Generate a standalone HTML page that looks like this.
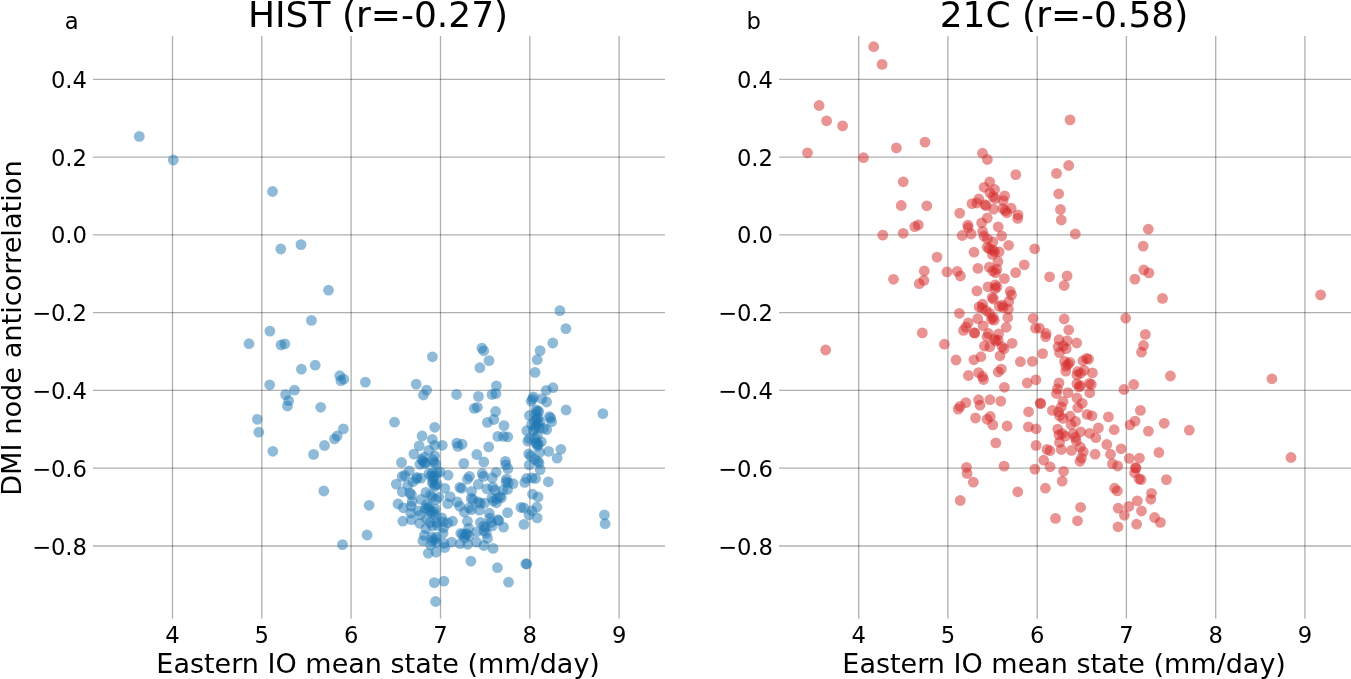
<!DOCTYPE html>
<html><head><meta charset="utf-8"><title>scatter</title>
<style>html,body{margin:0;padding:0;background:#fff;overflow:hidden}svg{display:block;will-change:transform}text{font-family:"DejaVu Sans","Liberation Sans",sans-serif;fill:#000}</style></head><body>
<svg width="1351" height="679" viewBox="0 0 1351 679">
<rect width="1351" height="679" fill="#fff"/>
<g stroke="#000" stroke-opacity="0.31" stroke-width="1.33" fill="none">
<line x1="172.5" y1="36.0" x2="172.5" y2="618.5"/>
<line x1="261.8" y1="36.0" x2="261.8" y2="618.5"/>
<line x1="351.1" y1="36.0" x2="351.1" y2="618.5"/>
<line x1="440.5" y1="36.0" x2="440.5" y2="618.5"/>
<line x1="529.8" y1="36.0" x2="529.8" y2="618.5"/>
<line x1="619.1" y1="36.0" x2="619.1" y2="618.5"/>
<line x1="93.0" y1="546.0" x2="665.0" y2="546.0"/>
<line x1="93.0" y1="468.2" x2="665.0" y2="468.2"/>
<line x1="93.0" y1="390.4" x2="665.0" y2="390.4"/>
<line x1="93.0" y1="312.7" x2="665.0" y2="312.7"/>
<line x1="93.0" y1="234.9" x2="665.0" y2="234.9"/>
<line x1="93.0" y1="157.2" x2="665.0" y2="157.2"/>
<line x1="93.0" y1="79.4" x2="665.0" y2="79.4"/>
</g>
<g stroke="#000" stroke-opacity="0.31" stroke-width="1.33" fill="none">
<line x1="858.7" y1="36.0" x2="858.7" y2="618.5"/>
<line x1="947.9" y1="36.0" x2="947.9" y2="618.5"/>
<line x1="1037.2" y1="36.0" x2="1037.2" y2="618.5"/>
<line x1="1126.4" y1="36.0" x2="1126.4" y2="618.5"/>
<line x1="1215.7" y1="36.0" x2="1215.7" y2="618.5"/>
<line x1="1304.9" y1="36.0" x2="1304.9" y2="618.5"/>
<line x1="779.0" y1="546.0" x2="1351.0" y2="546.0"/>
<line x1="779.0" y1="468.2" x2="1351.0" y2="468.2"/>
<line x1="779.0" y1="390.4" x2="1351.0" y2="390.4"/>
<line x1="779.0" y1="312.7" x2="1351.0" y2="312.7"/>
<line x1="779.0" y1="234.9" x2="1351.0" y2="234.9"/>
<line x1="779.0" y1="157.2" x2="1351.0" y2="157.2"/>
<line x1="779.0" y1="79.4" x2="1351.0" y2="79.4"/>
</g>
<g fill="#1f77b4" fill-opacity="0.5">
<circle cx="139.3" cy="136.4" r="5.4"/><circle cx="173.3" cy="160.0" r="5.4"/><circle cx="272.5" cy="191.5" r="5.4"/><circle cx="280.8" cy="249.0" r="5.4"/><circle cx="301.0" cy="244.6" r="5.4"/><circle cx="328.5" cy="290.2" r="5.4"/><circle cx="311.4" cy="320.4" r="5.4"/><circle cx="269.9" cy="331.1" r="5.4"/><circle cx="249.0" cy="343.7" r="5.4"/><circle cx="281.0" cy="345.0" r="5.4"/><circle cx="284.8" cy="343.9" r="5.4"/><circle cx="315.2" cy="365.2" r="5.4"/><circle cx="301.4" cy="369.2" r="5.4"/><circle cx="339.8" cy="375.7" r="5.4"/><circle cx="340.9" cy="380.6" r="5.4"/><circle cx="343.8" cy="379.2" r="5.4"/><circle cx="365.4" cy="382.1" r="5.4"/><circle cx="269.7" cy="384.8" r="5.4"/><circle cx="294.5" cy="390.1" r="5.4"/><circle cx="285.6" cy="394.6" r="5.4"/><circle cx="288.7" cy="400.7" r="5.4"/><circle cx="287.4" cy="406.0" r="5.4"/><circle cx="320.7" cy="407.3" r="5.4"/><circle cx="257.4" cy="419.3" r="5.4"/><circle cx="258.8" cy="432.2" r="5.4"/><circle cx="272.8" cy="451.3" r="5.4"/><circle cx="343.4" cy="428.9" r="5.4"/><circle cx="337.2" cy="436.0" r="5.4"/><circle cx="334.5" cy="438.9" r="5.4"/><circle cx="324.5" cy="445.5" r="5.4"/><circle cx="313.6" cy="454.4" r="5.4"/><circle cx="323.8" cy="491.0" r="5.4"/><circle cx="369.1" cy="505.3" r="5.4"/><circle cx="367.1" cy="535.0" r="5.4"/><circle cx="342.5" cy="544.6" r="5.4"/><circle cx="428.3" cy="553.3" r="5.4"/><circle cx="436.1" cy="552.2" r="5.4"/><circle cx="470.9" cy="561.1" r="5.4"/><circle cx="497.4" cy="567.7" r="5.4"/><circle cx="525.8" cy="563.8" r="5.4"/><circle cx="526.9" cy="564.0" r="5.4"/><circle cx="508.5" cy="582.2" r="5.4"/><circle cx="434.3" cy="582.6" r="5.4"/><circle cx="443.9" cy="581.1" r="5.4"/><circle cx="435.6" cy="601.5" r="5.4"/><circle cx="559.9" cy="310.6" r="5.4"/><circle cx="565.9" cy="328.6" r="5.4"/><circle cx="552.8" cy="343.0" r="5.4"/><circle cx="540.1" cy="350.6" r="5.4"/><circle cx="537.2" cy="359.7" r="5.4"/><circle cx="535.0" cy="372.4" r="5.4"/><circle cx="432.4" cy="356.8" r="5.4"/><circle cx="481.9" cy="348.1" r="5.4"/><circle cx="483.7" cy="350.8" r="5.4"/><circle cx="489.0" cy="360.6" r="5.4"/><circle cx="479.9" cy="367.7" r="5.4"/><circle cx="496.4" cy="385.9" r="5.4"/><circle cx="416.2" cy="384.1" r="5.4"/><circle cx="426.6" cy="390.1" r="5.4"/><circle cx="553.0" cy="387.7" r="5.4"/><circle cx="546.3" cy="390.3" r="5.4"/><circle cx="423.4" cy="395.0" r="5.4"/><circle cx="456.6" cy="394.5" r="5.4"/><circle cx="478.4" cy="396.4" r="5.4"/><circle cx="492.0" cy="394.5" r="5.4"/><circle cx="495.9" cy="393.6" r="5.4"/><circle cx="474.3" cy="408.4" r="5.4"/><circle cx="477.4" cy="407.3" r="5.4"/><circle cx="495.6" cy="411.5" r="5.4"/><circle cx="493.8" cy="419.5" r="5.4"/><circle cx="487.4" cy="422.4" r="5.4"/><circle cx="504.0" cy="425.6" r="5.4"/><circle cx="394.5" cy="422.2" r="5.4"/><circle cx="434.7" cy="427.3" r="5.4"/><circle cx="422.1" cy="436.0" r="5.4"/><circle cx="432.3" cy="439.5" r="5.4"/><circle cx="419.2" cy="445.9" r="5.4"/><circle cx="434.7" cy="445.3" r="5.4"/><circle cx="442.3" cy="445.3" r="5.4"/><circle cx="456.8" cy="443.1" r="5.4"/><circle cx="462.1" cy="444.2" r="5.4"/><circle cx="458.0" cy="446.4" r="5.4"/><circle cx="497.8" cy="436.4" r="5.4"/><circle cx="503.6" cy="436.4" r="5.4"/><circle cx="488.7" cy="446.9" r="5.4"/><circle cx="413.9" cy="454.1" r="5.4"/><circle cx="401.5" cy="462.4" r="5.4"/><circle cx="428.8" cy="450.4" r="5.4"/><circle cx="463.8" cy="463.4" r="5.4"/><circle cx="424.1" cy="457.2" r="5.4"/><circle cx="434.7" cy="456.0" r="5.4"/><circle cx="422.9" cy="461.3" r="5.4"/><circle cx="425.9" cy="462.8" r="5.4"/><circle cx="434.1" cy="462.5" r="5.4"/><circle cx="419.9" cy="464.3" r="5.4"/><circle cx="409.3" cy="470.8" r="5.4"/><circle cx="402.2" cy="476.4" r="5.4"/><circle cx="404.8" cy="475.5" r="5.4"/><circle cx="448.1" cy="475.2" r="5.4"/><circle cx="432.4" cy="473.2" r="5.4"/><circle cx="430.9" cy="476.1" r="5.4"/><circle cx="435.3" cy="475.8" r="5.4"/><circle cx="417.0" cy="477.3" r="5.4"/><circle cx="421.1" cy="478.2" r="5.4"/><circle cx="440.1" cy="472.0" r="5.4"/><circle cx="476.8" cy="454.5" r="5.4"/><circle cx="483.8" cy="461.9" r="5.4"/><circle cx="505.4" cy="461.3" r="5.4"/><circle cx="505.9" cy="464.9" r="5.4"/><circle cx="507.9" cy="468.7" r="5.4"/><circle cx="496.1" cy="472.3" r="5.4"/><circle cx="482.2" cy="473.5" r="5.4"/><circle cx="483.4" cy="476.4" r="5.4"/><circle cx="469.4" cy="476.4" r="5.4"/><circle cx="467.4" cy="479.1" r="5.4"/><circle cx="492.2" cy="477.9" r="5.4"/><circle cx="506.5" cy="479.1" r="5.4"/><circle cx="527.8" cy="441.2" r="5.4"/><circle cx="536.1" cy="442.4" r="5.4"/><circle cx="538.4" cy="444.1" r="5.4"/><circle cx="537.5" cy="445.9" r="5.4"/><circle cx="541.4" cy="441.8" r="5.4"/><circle cx="528.7" cy="453.9" r="5.4"/><circle cx="530.7" cy="456.0" r="5.4"/><circle cx="539.6" cy="452.4" r="5.4"/><circle cx="534.9" cy="459.5" r="5.4"/><circle cx="537.8" cy="461.3" r="5.4"/><circle cx="539.0" cy="463.1" r="5.4"/><circle cx="529.2" cy="464.9" r="5.4"/><circle cx="540.2" cy="469.6" r="5.4"/><circle cx="526.6" cy="478.5" r="5.4"/><circle cx="531.9" cy="477.9" r="5.4"/><circle cx="535.5" cy="478.5" r="5.4"/><circle cx="507.7" cy="436.8" r="5.4"/><circle cx="533.4" cy="396.9" r="5.4"/><circle cx="531.2" cy="401.3" r="5.4"/><circle cx="541.9" cy="398.7" r="5.4"/><circle cx="546.6" cy="402.0" r="5.4"/><circle cx="566.1" cy="410.0" r="5.4"/><circle cx="602.9" cy="413.6" r="5.4"/><circle cx="536.1" cy="409.8" r="5.4"/><circle cx="538.8" cy="411.5" r="5.4"/><circle cx="535.6" cy="414.2" r="5.4"/><circle cx="529.4" cy="415.5" r="5.4"/><circle cx="538.3" cy="417.7" r="5.4"/><circle cx="534.8" cy="420.9" r="5.4"/><circle cx="540.1" cy="421.7" r="5.4"/><circle cx="549.4" cy="416.6" r="5.4"/><circle cx="550.7" cy="418.2" r="5.4"/><circle cx="551.6" cy="421.7" r="5.4"/><circle cx="531.6" cy="424.4" r="5.4"/><circle cx="536.1" cy="425.7" r="5.4"/><circle cx="539.2" cy="428.0" r="5.4"/><circle cx="526.8" cy="430.6" r="5.4"/><circle cx="546.7" cy="429.6" r="5.4"/><circle cx="543.6" cy="428.4" r="5.4"/><circle cx="533.4" cy="430.6" r="5.4"/><circle cx="537.4" cy="435.5" r="5.4"/><circle cx="534.8" cy="438.2" r="5.4"/><circle cx="529.4" cy="438.6" r="5.4"/><circle cx="548.6" cy="451.4" r="5.4"/><circle cx="560.9" cy="449.3" r="5.4"/><circle cx="557.1" cy="458.1" r="5.4"/><circle cx="548.3" cy="481.8" r="5.4"/><circle cx="604.4" cy="515.0" r="5.4"/><circle cx="605.1" cy="523.7" r="5.4"/><circle cx="396.3" cy="484.1" r="5.4"/><circle cx="407.8" cy="485.3" r="5.4"/><circle cx="412.8" cy="481.8" r="5.4"/><circle cx="432.4" cy="483.3" r="5.4"/><circle cx="434.7" cy="486.5" r="5.4"/><circle cx="437.1" cy="484.1" r="5.4"/><circle cx="444.8" cy="488.3" r="5.4"/><circle cx="459.9" cy="487.4" r="5.4"/><circle cx="461.7" cy="488.3" r="5.4"/><circle cx="402.2" cy="491.8" r="5.4"/><circle cx="409.8" cy="492.9" r="5.4"/><circle cx="411.5" cy="494.9" r="5.4"/><circle cx="425.9" cy="492.4" r="5.4"/><circle cx="430.3" cy="495.1" r="5.4"/><circle cx="438.9" cy="497.2" r="5.4"/><circle cx="450.1" cy="496.6" r="5.4"/><circle cx="457.2" cy="501.9" r="5.4"/><circle cx="421.1" cy="499.5" r="5.4"/><circle cx="412.2" cy="501.6" r="5.4"/><circle cx="398.0" cy="504.0" r="5.4"/><circle cx="403.4" cy="507.8" r="5.4"/><circle cx="447.8" cy="503.7" r="5.4"/><circle cx="459.6" cy="506.1" r="5.4"/><circle cx="411.1" cy="506.1" r="5.4"/><circle cx="426.5" cy="504.6" r="5.4"/><circle cx="429.1" cy="506.6" r="5.4"/><circle cx="425.3" cy="508.7" r="5.4"/><circle cx="435.3" cy="509.0" r="5.4"/><circle cx="418.2" cy="510.8" r="5.4"/><circle cx="410.8" cy="513.2" r="5.4"/><circle cx="420.5" cy="514.9" r="5.4"/><circle cx="431.8" cy="513.2" r="5.4"/><circle cx="435.3" cy="515.2" r="5.4"/><circle cx="426.5" cy="518.8" r="5.4"/><circle cx="441.8" cy="517.9" r="5.4"/><circle cx="464.3" cy="512.0" r="5.4"/><circle cx="478.3" cy="484.4" r="5.4"/><circle cx="471.5" cy="491.3" r="5.4"/><circle cx="486.9" cy="488.9" r="5.4"/><circle cx="492.8" cy="487.1" r="5.4"/><circle cx="494.9" cy="490.1" r="5.4"/><circle cx="505.9" cy="481.8" r="5.4"/><circle cx="508.2" cy="483.0" r="5.4"/><circle cx="513.0" cy="483.6" r="5.4"/><circle cx="502.9" cy="490.1" r="5.4"/><circle cx="507.6" cy="489.5" r="5.4"/><circle cx="524.8" cy="482.4" r="5.4"/><circle cx="532.5" cy="494.2" r="5.4"/><circle cx="538.1" cy="496.9" r="5.4"/><circle cx="471.2" cy="498.4" r="5.4"/><circle cx="473.0" cy="499.5" r="5.4"/><circle cx="478.3" cy="501.9" r="5.4"/><circle cx="480.1" cy="503.4" r="5.4"/><circle cx="484.5" cy="503.1" r="5.4"/><circle cx="491.9" cy="497.8" r="5.4"/><circle cx="493.4" cy="501.0" r="5.4"/><circle cx="496.4" cy="502.8" r="5.4"/><circle cx="499.9" cy="496.6" r="5.4"/><circle cx="501.4" cy="497.8" r="5.4"/><circle cx="497.0" cy="498.7" r="5.4"/><circle cx="469.1" cy="507.8" r="5.4"/><circle cx="471.5" cy="509.6" r="5.4"/><circle cx="479.5" cy="510.2" r="5.4"/><circle cx="489.3" cy="513.2" r="5.4"/><circle cx="507.6" cy="512.6" r="5.4"/><circle cx="521.0" cy="507.4" r="5.4"/><circle cx="523.9" cy="507.9" r="5.4"/><circle cx="531.9" cy="510.8" r="5.4"/><circle cx="536.9" cy="507.2" r="5.4"/><circle cx="529.0" cy="514.9" r="5.4"/><circle cx="537.2" cy="517.9" r="5.4"/><circle cx="489.9" cy="518.2" r="5.4"/><circle cx="497.9" cy="519.7" r="5.4"/><circle cx="402.8" cy="521.2" r="5.4"/><circle cx="411.4" cy="519.7" r="5.4"/><circle cx="419.6" cy="523.3" r="5.4"/><circle cx="425.9" cy="528.6" r="5.4"/><circle cx="424.4" cy="535.4" r="5.4"/><circle cx="422.9" cy="540.7" r="5.4"/><circle cx="432.4" cy="525.9" r="5.4"/><circle cx="436.5" cy="522.4" r="5.4"/><circle cx="443.0" cy="521.8" r="5.4"/><circle cx="447.8" cy="523.0" r="5.4"/><circle cx="452.5" cy="521.2" r="5.4"/><circle cx="443.6" cy="527.7" r="5.4"/><circle cx="443.0" cy="533.3" r="5.4"/><circle cx="431.8" cy="537.2" r="5.4"/><circle cx="434.4" cy="539.2" r="5.4"/><circle cx="436.2" cy="537.2" r="5.4"/><circle cx="432.4" cy="541.3" r="5.4"/><circle cx="430.6" cy="544.9" r="5.4"/><circle cx="437.1" cy="542.5" r="5.4"/><circle cx="444.8" cy="547.5" r="5.4"/><circle cx="443.9" cy="543.4" r="5.4"/><circle cx="451.6" cy="542.2" r="5.4"/><circle cx="460.8" cy="533.3" r="5.4"/><circle cx="462.6" cy="534.5" r="5.4"/><circle cx="460.2" cy="543.7" r="5.4"/><circle cx="464.6" cy="537.8" r="5.4"/><circle cx="467.4" cy="521.2" r="5.4"/><circle cx="480.4" cy="522.4" r="5.4"/><circle cx="483.7" cy="525.9" r="5.4"/><circle cx="485.4" cy="527.4" r="5.4"/><circle cx="491.1" cy="522.4" r="5.4"/><circle cx="498.8" cy="520.6" r="5.4"/><circle cx="492.2" cy="525.9" r="5.4"/><circle cx="503.5" cy="527.1" r="5.4"/><circle cx="523.9" cy="524.4" r="5.4"/><circle cx="468.6" cy="528.3" r="5.4"/><circle cx="466.8" cy="533.6" r="5.4"/><circle cx="469.1" cy="536.0" r="5.4"/><circle cx="476.8" cy="531.8" r="5.4"/><circle cx="483.9" cy="530.7" r="5.4"/><circle cx="486.3" cy="533.3" r="5.4"/><circle cx="487.5" cy="538.4" r="5.4"/><circle cx="476.5" cy="542.2" r="5.4"/><circle cx="467.7" cy="544.3" r="5.4"/><circle cx="483.9" cy="545.5" r="5.4"/><circle cx="493.1" cy="548.4" r="5.4"/><circle cx="422.0" cy="459.5" r="5.4"/><circle cx="424.5" cy="463.5" r="5.4"/><circle cx="433.0" cy="460.0" r="5.4"/><circle cx="436.0" cy="464.0" r="5.4"/><circle cx="433.5" cy="477.5" r="5.4"/><circle cx="437.0" cy="473.0" r="5.4"/><circle cx="429.0" cy="473.5" r="5.4"/><circle cx="433.0" cy="481.0" r="5.4"/><circle cx="435.0" cy="485.0" r="5.4"/><circle cx="416.5" cy="479.0" r="5.4"/><circle cx="532.5" cy="399.1" r="5.4"/><circle cx="537.4" cy="411.1" r="5.4"/><circle cx="536.5" cy="419.1" r="5.4"/><circle cx="535.2" cy="428.0" r="5.4"/><circle cx="537.9" cy="423.5" r="5.4"/><circle cx="432.4" cy="497.2" r="5.4"/><circle cx="435.9" cy="499.5" r="5.4"/><circle cx="427.6" cy="508.4" r="5.4"/><circle cx="430.0" cy="510.8" r="5.4"/><circle cx="434.1" cy="512.0" r="5.4"/><circle cx="430.0" cy="522.4" r="5.4"/><circle cx="437.1" cy="525.3" r="5.4"/><circle cx="536.5" cy="443.7" r="5.4"/><circle cx="465.5" cy="534.5" r="5.4"/>
</g>
<g fill="#d62728" fill-opacity="0.5">
<circle cx="873.7" cy="46.7" r="5.4"/><circle cx="882.1" cy="64.4" r="5.4"/><circle cx="819.1" cy="105.5" r="5.4"/><circle cx="826.6" cy="120.8" r="5.4"/><circle cx="842.6" cy="125.9" r="5.4"/><circle cx="807.5" cy="152.8" r="5.4"/><circle cx="863.5" cy="157.7" r="5.4"/><circle cx="896.4" cy="147.9" r="5.4"/><circle cx="925.0" cy="142.1" r="5.4"/><circle cx="982.5" cy="153.2" r="5.4"/><circle cx="987.4" cy="159.5" r="5.4"/><circle cx="1070.0" cy="119.9" r="5.4"/><circle cx="1068.7" cy="165.5" r="5.4"/><circle cx="1056.5" cy="173.4" r="5.4"/><circle cx="1015.8" cy="174.6" r="5.4"/><circle cx="903.2" cy="181.8" r="5.4"/><circle cx="901.2" cy="205.5" r="5.4"/><circle cx="926.8" cy="205.8" r="5.4"/><circle cx="914.8" cy="226.6" r="5.4"/><circle cx="918.3" cy="224.9" r="5.4"/><circle cx="882.8" cy="235.1" r="5.4"/><circle cx="903.2" cy="233.3" r="5.4"/><circle cx="937.0" cy="257.1" r="5.4"/><circle cx="924.3" cy="271.0" r="5.4"/><circle cx="893.5" cy="279.3" r="5.4"/><circle cx="923.9" cy="280.4" r="5.4"/><circle cx="919.2" cy="283.7" r="5.4"/><circle cx="947.0" cy="271.9" r="5.4"/><circle cx="1058.7" cy="193.8" r="5.4"/><circle cx="1060.5" cy="209.5" r="5.4"/><circle cx="1061.3" cy="220.0" r="5.4"/><circle cx="1075.3" cy="234.0" r="5.4"/><circle cx="1034.7" cy="248.8" r="5.4"/><circle cx="1024.3" cy="264.8" r="5.4"/><circle cx="1049.6" cy="276.8" r="5.4"/><circle cx="1067.1" cy="275.9" r="5.4"/><circle cx="1064.2" cy="285.5" r="5.4"/><circle cx="1033.1" cy="318.3" r="5.4"/><circle cx="1064.2" cy="319.0" r="5.4"/><circle cx="989.7" cy="182.0" r="5.4"/><circle cx="984.1" cy="187.3" r="5.4"/><circle cx="994.6" cy="189.5" r="5.4"/><circle cx="989.9" cy="192.6" r="5.4"/><circle cx="993.1" cy="196.6" r="5.4"/><circle cx="995.2" cy="198.6" r="5.4"/><circle cx="1004.6" cy="195.9" r="5.4"/><circle cx="1003.2" cy="200.6" r="5.4"/><circle cx="978.8" cy="199.0" r="5.4"/><circle cx="972.0" cy="203.6" r="5.4"/><circle cx="976.9" cy="203.0" r="5.4"/><circle cx="984.9" cy="204.6" r="5.4"/><circle cx="986.2" cy="205.7" r="5.4"/><circle cx="993.6" cy="209.1" r="5.4"/><circle cx="1011.1" cy="208.2" r="5.4"/><circle cx="1002.9" cy="208.6" r="5.4"/><circle cx="1005.3" cy="210.6" r="5.4"/><circle cx="1006.8" cy="212.8" r="5.4"/><circle cx="1018.0" cy="214.9" r="5.4"/><circle cx="1017.7" cy="218.4" r="5.4"/><circle cx="959.7" cy="213.1" r="5.4"/><circle cx="987.3" cy="218.0" r="5.4"/><circle cx="981.6" cy="222.8" r="5.4"/><circle cx="967.8" cy="225.1" r="5.4"/><circle cx="968.2" cy="227.7" r="5.4"/><circle cx="998.2" cy="226.8" r="5.4"/><circle cx="962.2" cy="235.5" r="5.4"/><circle cx="971.1" cy="234.0" r="5.4"/><circle cx="982.6" cy="231.3" r="5.4"/><circle cx="984.0" cy="236.2" r="5.4"/><circle cx="987.5" cy="238.9" r="5.4"/><circle cx="992.8" cy="242.0" r="5.4"/><circle cx="1001.7" cy="236.0" r="5.4"/><circle cx="1008.6" cy="245.3" r="5.4"/><circle cx="987.1" cy="247.3" r="5.4"/><circle cx="989.3" cy="248.7" r="5.4"/><circle cx="992.8" cy="250.0" r="5.4"/><circle cx="994.6" cy="251.8" r="5.4"/><circle cx="999.1" cy="251.8" r="5.4"/><circle cx="992.4" cy="254.4" r="5.4"/><circle cx="974.0" cy="252.2" r="5.4"/><circle cx="997.9" cy="261.5" r="5.4"/><circle cx="977.9" cy="268.4" r="5.4"/><circle cx="989.3" cy="267.1" r="5.4"/><circle cx="992.8" cy="271.0" r="5.4"/><circle cx="995.5" cy="272.6" r="5.4"/><circle cx="996.8" cy="269.1" r="5.4"/><circle cx="957.3" cy="271.3" r="5.4"/><circle cx="960.4" cy="276.0" r="5.4"/><circle cx="1015.7" cy="272.6" r="5.4"/><circle cx="1004.4" cy="278.6" r="5.4"/><circle cx="988.0" cy="286.8" r="5.4"/><circle cx="995.2" cy="284.9" r="5.4"/><circle cx="997.0" cy="286.8" r="5.4"/><circle cx="995.1" cy="288.6" r="5.4"/><circle cx="976.9" cy="290.9" r="5.4"/><circle cx="1010.2" cy="291.3" r="5.4"/><circle cx="1011.5" cy="294.9" r="5.4"/><circle cx="992.2" cy="297.5" r="5.4"/><circle cx="993.5" cy="299.1" r="5.4"/><circle cx="1008.8" cy="301.5" r="5.4"/><circle cx="999.3" cy="306.4" r="5.4"/><circle cx="1002.2" cy="305.1" r="5.4"/><circle cx="1003.2" cy="307.5" r="5.4"/><circle cx="1008.4" cy="309.1" r="5.4"/><circle cx="982.6" cy="304.2" r="5.4"/><circle cx="979.1" cy="306.9" r="5.4"/><circle cx="982.2" cy="308.2" r="5.4"/><circle cx="986.2" cy="310.6" r="5.4"/><circle cx="989.7" cy="313.3" r="5.4"/><circle cx="993.1" cy="317.4" r="5.4"/><circle cx="994.2" cy="320.2" r="5.4"/><circle cx="991.5" cy="319.3" r="5.4"/><circle cx="959.4" cy="313.3" r="5.4"/><circle cx="1007.8" cy="317.5" r="5.4"/><circle cx="977.7" cy="318.7" r="5.4"/><circle cx="968.2" cy="323.0" r="5.4"/><circle cx="983.1" cy="325.8" r="5.4"/><circle cx="1006.2" cy="327.3" r="5.4"/><circle cx="965.9" cy="327.1" r="5.4"/><circle cx="963.5" cy="330.4" r="5.4"/><circle cx="974.2" cy="332.6" r="5.4"/><circle cx="974.8" cy="333.2" r="5.4"/><circle cx="988.4" cy="333.5" r="5.4"/><circle cx="987.1" cy="336.8" r="5.4"/><circle cx="998.6" cy="334.0" r="5.4"/><circle cx="994.6" cy="339.3" r="5.4"/><circle cx="996.0" cy="341.1" r="5.4"/><circle cx="998.2" cy="340.2" r="5.4"/><circle cx="1012.1" cy="343.3" r="5.4"/><circle cx="944.4" cy="344.2" r="5.4"/><circle cx="984.4" cy="346.0" r="5.4"/><circle cx="989.7" cy="346.8" r="5.4"/><circle cx="1002.2" cy="346.8" r="5.4"/><circle cx="1004.1" cy="348.8" r="5.4"/><circle cx="1035.5" cy="328.2" r="5.4"/><circle cx="1039.5" cy="328.2" r="5.4"/><circle cx="1046.1" cy="333.5" r="5.4"/><circle cx="1045.7" cy="336.6" r="5.4"/><circle cx="1059.0" cy="339.7" r="5.4"/><circle cx="1058.1" cy="346.8" r="5.4"/><circle cx="956.0" cy="360.0" r="5.4"/><circle cx="973.9" cy="359.8" r="5.4"/><circle cx="980.9" cy="356.7" r="5.4"/><circle cx="1000.0" cy="355.8" r="5.4"/><circle cx="1020.4" cy="361.7" r="5.4"/><circle cx="1032.4" cy="361.4" r="5.4"/><circle cx="1042.6" cy="353.6" r="5.4"/><circle cx="1059.5" cy="352.7" r="5.4"/><circle cx="968.4" cy="375.5" r="5.4"/><circle cx="978.6" cy="372.6" r="5.4"/><circle cx="982.5" cy="376.5" r="5.4"/><circle cx="983.5" cy="379.5" r="5.4"/><circle cx="998.2" cy="372.0" r="5.4"/><circle cx="1001.3" cy="369.1" r="5.4"/><circle cx="1035.9" cy="379.8" r="5.4"/><circle cx="1027.2" cy="383.0" r="5.4"/><circle cx="1004.4" cy="387.3" r="5.4"/><circle cx="1059.0" cy="382.9" r="5.4"/><circle cx="1057.4" cy="388.9" r="5.4"/><circle cx="1056.5" cy="393.5" r="5.4"/><circle cx="965.8" cy="402.6" r="5.4"/><circle cx="978.6" cy="399.7" r="5.4"/><circle cx="980.0" cy="405.2" r="5.4"/><circle cx="989.9" cy="399.7" r="5.4"/><circle cx="1000.8" cy="401.1" r="5.4"/><circle cx="960.0" cy="406.4" r="5.4"/><circle cx="958.2" cy="409.1" r="5.4"/><circle cx="1040.2" cy="403.1" r="5.4"/><circle cx="1040.7" cy="403.6" r="5.4"/><circle cx="1028.6" cy="411.8" r="5.4"/><circle cx="1052.4" cy="410.4" r="5.4"/><circle cx="1058.6" cy="411.8" r="5.4"/><circle cx="1059.5" cy="415.8" r="5.4"/><circle cx="975.5" cy="418.0" r="5.4"/><circle cx="990.2" cy="416.4" r="5.4"/><circle cx="987.1" cy="419.3" r="5.4"/><circle cx="992.8" cy="424.9" r="5.4"/><circle cx="1007.1" cy="426.0" r="5.4"/><circle cx="1028.4" cy="426.9" r="5.4"/><circle cx="1036.1" cy="428.8" r="5.4"/><circle cx="995.8" cy="442.9" r="5.4"/><circle cx="1036.1" cy="445.4" r="5.4"/><circle cx="1047.0" cy="449.5" r="5.4"/><circle cx="1050.0" cy="450.7" r="5.4"/><circle cx="1043.7" cy="460.2" r="5.4"/><circle cx="1050.1" cy="466.8" r="5.4"/><circle cx="1057.7" cy="429.1" r="5.4"/><circle cx="1059.0" cy="434.9" r="5.4"/><circle cx="1059.5" cy="442.4" r="5.4"/><circle cx="966.5" cy="467.3" r="5.4"/><circle cx="1004.1" cy="466.1" r="5.4"/><circle cx="1034.9" cy="469.1" r="5.4"/><circle cx="967.1" cy="473.4" r="5.4"/><circle cx="973.3" cy="482.2" r="5.4"/><circle cx="960.2" cy="500.5" r="5.4"/><circle cx="1017.8" cy="491.8" r="5.4"/><circle cx="1045.4" cy="488.2" r="5.4"/><circle cx="1055.5" cy="518.4" r="5.4"/><circle cx="1148.3" cy="229.2" r="5.4"/><circle cx="1143.2" cy="246.1" r="5.4"/><circle cx="1143.8" cy="270.0" r="5.4"/><circle cx="1148.9" cy="272.9" r="5.4"/><circle cx="1134.9" cy="279.1" r="5.4"/><circle cx="1162.5" cy="298.4" r="5.4"/><circle cx="1320.6" cy="294.9" r="5.4"/><circle cx="1271.9" cy="378.8" r="5.4"/><circle cx="1125.7" cy="318.2" r="5.4"/><circle cx="1068.7" cy="330.0" r="5.4"/><circle cx="1076.7" cy="343.0" r="5.4"/><circle cx="1067.1" cy="340.8" r="5.4"/><circle cx="1145.3" cy="334.4" r="5.4"/><circle cx="1143.5" cy="345.5" r="5.4"/><circle cx="1063.1" cy="346.0" r="5.4"/><circle cx="1066.2" cy="348.6" r="5.4"/><circle cx="1141.5" cy="352.2" r="5.4"/><circle cx="1170.4" cy="376.0" r="5.4"/><circle cx="1133.7" cy="384.5" r="5.4"/><circle cx="1124.0" cy="389.5" r="5.4"/><circle cx="1082.9" cy="360.8" r="5.4"/><circle cx="1086.5" cy="358.4" r="5.4"/><circle cx="1088.6" cy="359.1" r="5.4"/><circle cx="1064.6" cy="361.4" r="5.4"/><circle cx="1068.2" cy="364.2" r="5.4"/><circle cx="1069.9" cy="362.3" r="5.4"/><circle cx="1066.0" cy="366.2" r="5.4"/><circle cx="1065.8" cy="371.1" r="5.4"/><circle cx="1077.8" cy="371.3" r="5.4"/><circle cx="1080.6" cy="373.3" r="5.4"/><circle cx="1076.9" cy="375.0" r="5.4"/><circle cx="1084.2" cy="370.3" r="5.4"/><circle cx="1092.4" cy="372.9" r="5.4"/><circle cx="1076.9" cy="383.8" r="5.4"/><circle cx="1080.6" cy="385.7" r="5.4"/><circle cx="1079.1" cy="386.9" r="5.4"/><circle cx="1089.3" cy="383.3" r="5.4"/><circle cx="1091.3" cy="384.4" r="5.4"/><circle cx="1089.8" cy="392.8" r="5.4"/><circle cx="1068.0" cy="392.6" r="5.4"/><circle cx="1076.9" cy="398.0" r="5.4"/><circle cx="1082.2" cy="403.3" r="5.4"/><circle cx="1063.1" cy="401.5" r="5.4"/><circle cx="1077.8" cy="407.7" r="5.4"/><circle cx="1061.3" cy="406.8" r="5.4"/><circle cx="1140.4" cy="410.4" r="5.4"/><circle cx="1087.1" cy="414.4" r="5.4"/><circle cx="1092.0" cy="415.8" r="5.4"/><circle cx="1108.4" cy="416.9" r="5.4"/><circle cx="1070.2" cy="416.2" r="5.4"/><circle cx="1063.1" cy="418.4" r="5.4"/><circle cx="1075.5" cy="421.5" r="5.4"/><circle cx="1071.1" cy="424.7" r="5.4"/><circle cx="1135.1" cy="421.1" r="5.4"/><circle cx="1130.0" cy="424.9" r="5.4"/><circle cx="1164.2" cy="423.3" r="5.4"/><circle cx="1148.4" cy="431.1" r="5.4"/><circle cx="1114.2" cy="429.7" r="5.4"/><circle cx="1098.4" cy="427.9" r="5.4"/><circle cx="1080.6" cy="431.8" r="5.4"/><circle cx="1089.6" cy="433.3" r="5.4"/><circle cx="1095.8" cy="437.7" r="5.4"/><circle cx="1065.3" cy="436.2" r="5.4"/><circle cx="1073.1" cy="433.8" r="5.4"/><circle cx="1075.3" cy="437.5" r="5.4"/><circle cx="1076.2" cy="440.9" r="5.4"/><circle cx="1062.2" cy="433.5" r="5.4"/><circle cx="1106.8" cy="444.5" r="5.4"/><circle cx="1121.1" cy="448.8" r="5.4"/><circle cx="1061.3" cy="449.5" r="5.4"/><circle cx="1071.5" cy="450.4" r="5.4"/><circle cx="1080.3" cy="447.1" r="5.4"/><circle cx="1083.3" cy="451.7" r="5.4"/><circle cx="1095.1" cy="454.2" r="5.4"/><circle cx="1110.5" cy="454.2" r="5.4"/><circle cx="1158.9" cy="452.5" r="5.4"/><circle cx="1129.3" cy="458.4" r="5.4"/><circle cx="1139.5" cy="458.1" r="5.4"/><circle cx="1081.5" cy="458.0" r="5.4"/><circle cx="1080.0" cy="461.3" r="5.4"/><circle cx="1112.4" cy="463.7" r="5.4"/><circle cx="1117.7" cy="466.0" r="5.4"/><circle cx="1135.5" cy="467.6" r="5.4"/><circle cx="1136.0" cy="468.2" r="5.4"/><circle cx="1063.6" cy="471.3" r="5.4"/><circle cx="1062.2" cy="481.1" r="5.4"/><circle cx="1134.6" cy="472.7" r="5.4"/><circle cx="1139.1" cy="478.9" r="5.4"/><circle cx="1141.0" cy="479.6" r="5.4"/><circle cx="1166.4" cy="479.6" r="5.4"/><circle cx="1114.6" cy="488.2" r="5.4"/><circle cx="1117.3" cy="490.9" r="5.4"/><circle cx="1151.5" cy="493.3" r="5.4"/><circle cx="1150.8" cy="499.3" r="5.4"/><circle cx="1137.3" cy="500.9" r="5.4"/><circle cx="1128.8" cy="506.4" r="5.4"/><circle cx="1118.2" cy="508.2" r="5.4"/><circle cx="1141.5" cy="511.0" r="5.4"/><circle cx="1080.6" cy="507.3" r="5.4"/><circle cx="1124.4" cy="515.3" r="5.4"/><circle cx="1154.6" cy="517.5" r="5.4"/><circle cx="1160.4" cy="522.4" r="5.4"/><circle cx="1077.5" cy="520.8" r="5.4"/><circle cx="1136.6" cy="524.2" r="5.4"/><circle cx="1118.0" cy="526.8" r="5.4"/><circle cx="1189.3" cy="430.2" r="5.4"/><circle cx="1291.0" cy="457.5" r="5.4"/><circle cx="825.7" cy="350.0" r="5.4"/><circle cx="922.3" cy="332.9" r="5.4"/>
</g>
<g font-size="22.7px">
<text x="172.5" y="642.5" text-anchor="middle">4</text>
<text x="261.8" y="642.5" text-anchor="middle">5</text>
<text x="351.1" y="642.5" text-anchor="middle">6</text>
<text x="440.5" y="642.5" text-anchor="middle">7</text>
<text x="529.8" y="642.5" text-anchor="middle">8</text>
<text x="619.1" y="642.5" text-anchor="middle">9</text>
<text x="858.7" y="642.5" text-anchor="middle">4</text>
<text x="947.9" y="642.5" text-anchor="middle">5</text>
<text x="1037.2" y="642.5" text-anchor="middle">6</text>
<text x="1126.4" y="642.5" text-anchor="middle">7</text>
<text x="1215.7" y="642.5" text-anchor="middle">8</text>
<text x="1304.9" y="642.5" text-anchor="middle">9</text>
<text x="87.0" y="554.5" text-anchor="end">−0.8</text>
<text x="87.0" y="476.7" text-anchor="end">−0.6</text>
<text x="87.0" y="398.9" text-anchor="end">−0.4</text>
<text x="87.0" y="321.2" text-anchor="end">−0.2</text>
<text x="87.0" y="243.4" text-anchor="end">0.0</text>
<text x="87.0" y="165.7" text-anchor="end">0.2</text>
<text x="87.0" y="87.9" text-anchor="end">0.4</text>
<text x="773.0" y="554.5" text-anchor="end">−0.8</text>
<text x="773.0" y="476.7" text-anchor="end">−0.6</text>
<text x="773.0" y="398.9" text-anchor="end">−0.4</text>
<text x="773.0" y="321.2" text-anchor="end">−0.2</text>
<text x="773.0" y="243.4" text-anchor="end">0.0</text>
<text x="773.0" y="165.7" text-anchor="end">0.2</text>
<text x="773.0" y="87.9" text-anchor="end">0.4</text>
</g>
<text x="378.15" y="673.3" font-size="27px" text-anchor="middle">Eastern IO mean state (mm/day)</text>
<text x="1064.15" y="673.3" font-size="27px" text-anchor="middle">Eastern IO mean state (mm/day)</text>
<text transform="translate(21.3,328.1) rotate(-90)" font-size="27.2px" text-anchor="middle">DMI node anticorrelation</text>
<text x="378" y="27.2" font-size="36px" text-anchor="middle">HIST (r=-0.27)</text>
<text x="1064" y="27.2" font-size="36px" text-anchor="middle">21C (r=-0.58)</text>
<text x="64.8" y="28.6" font-size="22.7px">a</text>
<text x="746.4" y="28.6" font-size="22.7px">b</text>
</svg>
</body></html>
